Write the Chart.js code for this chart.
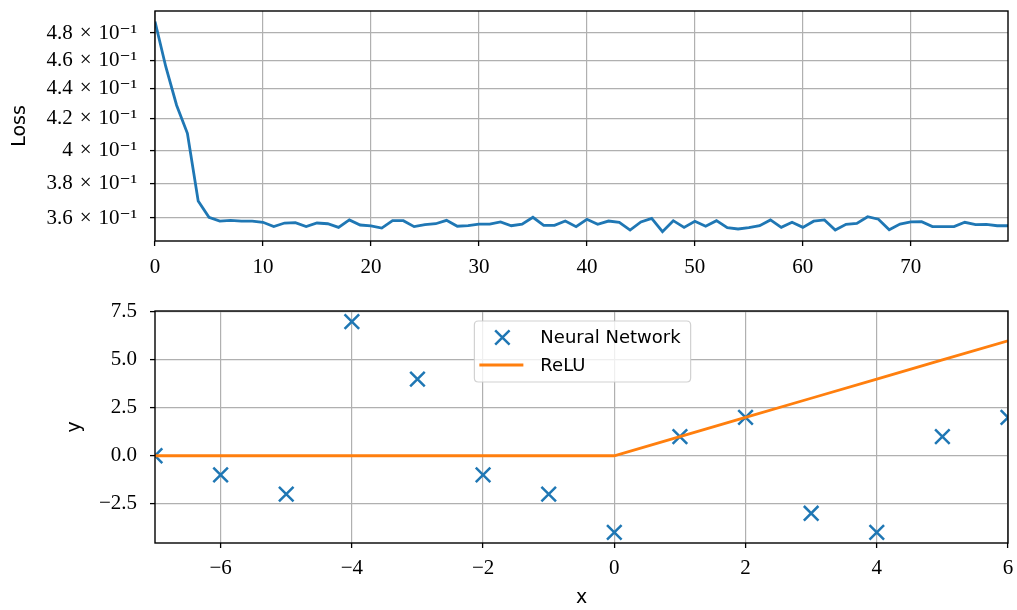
<!DOCTYPE html>
<html>
<head>
<meta charset="utf-8">
<script src="https://cdn.jsdelivr.net/npm/chart.js"></script>
<style>
  html, body { margin: 0; padding: 0; background: #fff; }
  #wrap { position: relative; width: 1017px; height: 610px; overflow: hidden; }
  #c1 { position: absolute; left: 0; top: 0; }
  #c2 { position: absolute; left: 0; top: 290px; }
</style>
</head>
<body>
<div id="wrap">
  <canvas id="c1" width="1017" height="290"></canvas>
  <canvas id="c2" width="1017" height="320"></canvas>
</div>
<script>
// ---------- data ----------
const loss = [
  0.4887, 0.4555, 0.4290, 0.4107, 0.3696, 0.3604, 0.3583, 0.3587, 0.3583, 0.3582,
  0.3576, 0.3552, 0.3572, 0.3574, 0.3552, 0.3572, 0.3568, 0.3548, 0.3589, 0.3561,
  0.3556, 0.3544, 0.3585, 0.3585, 0.3552, 0.3563, 0.3568, 0.3587, 0.3554, 0.3557,
  0.3566, 0.3566, 0.3578, 0.3557, 0.3566, 0.3604, 0.3559, 0.3559, 0.3583, 0.3552,
  0.3593, 0.3565, 0.3583, 0.3576, 0.3533, 0.3578, 0.3598, 0.3524, 0.3585, 0.3548,
  0.3582, 0.3554, 0.3585, 0.3546, 0.3539, 0.3546, 0.3557, 0.3589, 0.3548, 0.3576,
  0.3548, 0.3582, 0.3589, 0.3533, 0.3565, 0.3570, 0.3607, 0.3593, 0.3535, 0.3566,
  0.3578, 0.3579, 0.3552, 0.3552, 0.3552, 0.3576, 0.3563, 0.3565, 0.3557, 0.3557
];
const epochs = loss.map((_, i) => i);

const lossTickValues = [0.36, 0.38, 0.40, 0.42, 0.44, 0.46, 0.48];
const lossTickLabels = ['3.6\u2004×\u200410⁻¹', '3.8\u2004×\u200410⁻¹', '4\u2004×\u200410⁻¹', '4.2\u2004×\u200410⁻¹', '4.4\u2004×\u200410⁻¹', '4.6\u2004×\u200410⁻¹', '4.8\u2004×\u200410⁻¹'];
const epochTickValues = [0, 10, 20, 30, 40, 50, 60, 70];
const epochTickLabels = ['0', '10', '20', '30', '40', '50', '60', '70'];

const xs = [-7, -6, -5, -4, -3, -2, -1, 0, 1, 2, 3, 4, 5, 6];
const nnOutput = [0, -1, -2, 7, 4, -1, -2, -4, 1, 2, -3, -4, 1, 2];
const reluOutput = [0, 0, 0, 0, 0, 0, 0, 0, 1, 2, 3, 4, 5, 6];

const xTickValues = [-6, -4, -2, 0, 2, 4, 6];
const xTickLabels = ['−6', '−4', '−2', '0', '2', '4', '6'];
const yTickValues = [-2.5, 0, 2.5, 5, 7.5];
const yTickLabels = ['−2.5', '0.0', '2.5', '5.0', '7.5'];

const seriesNames = ['Neural Network', 'ReLU'];

// ---------- styles ----------
const BLUE = '#1f77b4';
const ORANGE = '#ff7f0e';
const GRID = '#b0b0b0';
const SERIF = "'Liberation Serif', 'DejaVu Serif', serif";
const SANS = "'DejaVu Sans', sans-serif";

function fixedTicks(values) {
  return function (scale) { scale.ticks = values.map(v => ({ value: v })); };
}
function labelFor(values, labels) {
  return function (v) {
    const i = values.findIndex(t => Math.abs(t - v) < 1e-9);
    return i >= 0 ? labels[i] : '';
  };
}
function gridOpts() {
  return { color: GRID, lineWidth: 1.2, tickColor: '#000', tickLength: 5, tickWidth: 1.3, drawTicks: true };
}
function fitX(h) {
  return function (s) { s.height = h; s.paddingLeft = 0; s.paddingRight = 0; s.paddingTop = 0; s.paddingBottom = 0; };
}
function fitY(w) {
  return function (s) { s.width = w; s.paddingLeft = 0; s.paddingRight = 0; s.paddingTop = 0; s.paddingBottom = 0; };
}

const framePlugin = {
  id: 'frame',
  afterDatasetsDraw(chart) {
    const { ctx, chartArea: a } = chart;
    ctx.save();
    ctx.strokeStyle = '#000';
    ctx.lineWidth = 1.4;
    ctx.strokeRect(a.left, a.top, a.right - a.left, a.bottom - a.top);
    ctx.restore();
  }
};

function drawCross(ctx, x, y, h, color, lw) {
  ctx.save();
  ctx.strokeStyle = color;
  ctx.lineWidth = lw;
  ctx.beginPath();
  ctx.moveTo(x - h, y - h); ctx.lineTo(x + h, y + h);
  ctx.moveTo(x - h, y + h); ctx.lineTo(x + h, y - h);
  ctx.stroke();
  ctx.restore();
}

const legendPlugin = {
  id: 'mplLegend',
  afterDraw(chart) {
    const { ctx, chartArea: a } = chart;
    const ds = chart.data.datasets;
    ctx.save();
    ctx.font = '18px ' + SANS;
    const textW = Math.max(...ds.map(d => ctx.measureText(d.label).width));
    const w = 66 + textW + 10;
    const h = 61;
    const cx = (a.left + a.right) / 2 + 1;
    const x0 = cx - w / 2;
    const y0 = a.top + 10;
    const r = 4;
    ctx.beginPath();
    ctx.moveTo(x0 + r, y0);
    ctx.lineTo(x0 + w - r, y0); ctx.quadraticCurveTo(x0 + w, y0, x0 + w, y0 + r);
    ctx.lineTo(x0 + w, y0 + h - r); ctx.quadraticCurveTo(x0 + w, y0 + h, x0 + w - r, y0 + h);
    ctx.lineTo(x0 + r, y0 + h); ctx.quadraticCurveTo(x0, y0 + h, x0, y0 + h - r);
    ctx.lineTo(x0, y0 + r); ctx.quadraticCurveTo(x0, y0, x0 + r, y0);
    ctx.closePath();
    ctx.fillStyle = 'rgba(255,255,255,0.8)';
    ctx.fill();
    ctx.strokeStyle = 'rgba(204,204,204,0.9)';
    ctx.lineWidth = 1.2;
    ctx.stroke();
    const rows = [y0 + 16.5, y0 + 44];
    ds.forEach((d, i) => {
      const yy = rows[i];
      if (d.showLine) {
        ctx.save();
        ctx.strokeStyle = d.borderColor;
        ctx.lineWidth = d.borderWidth;
        ctx.beginPath();
        ctx.moveTo(x0 + 5, yy); ctx.lineTo(x0 + 49, yy);
        ctx.stroke();
        ctx.restore();
      } else {
        drawCross(ctx, x0 + 28, yy, 7.2, d.borderColor, d.pointBorderWidth || 2.5);
      }
      ctx.fillStyle = '#000';
      ctx.textBaseline = 'middle';
      ctx.textAlign = 'left';
      ctx.fillText(d.label, x0 + 66, yy + 1);
    });
    ctx.restore();
  }
};

// ---------- top chart: loss ----------
new Chart(document.getElementById('c1'), {
  type: 'line',
  data: {
    labels: epochs,
    datasets: [{
      label: 'Loss',
      data: loss,
      borderColor: BLUE,
      backgroundColor: BLUE,
      borderWidth: 2.8,
      pointRadius: 0,
      tension: 0,
      fill: false
    }]
  },
  options: {
    responsive: false,
    animation: false,
    devicePixelRatio: 1,
    layout: { autoPadding: false, padding: { top: 11, right: 9, left: 0, bottom: 0 } },
    plugins: { legend: { display: false }, tooltip: { enabled: false } },
    scales: {
      x: {
        type: 'linear',
        min: 0, max: 79,
        afterBuildTicks: fixedTicks(epochTickValues),
        afterFit: fitX(49),
        grid: gridOpts(),
        border: { display: false },
        ticks: {
          autoSkip: false, maxRotation: 0, padding: 9, color: '#000',
          font: { family: SERIF, size: 21 },
          callback: labelFor(epochTickValues, epochTickLabels)
        }
      },
      y: {
        type: 'logarithmic',
        min: 0.34735, max: 0.49672,
        afterBuildTicks: fixedTicks(lossTickValues),
        afterFit: fitY(155),
        grid: gridOpts(),
        border: { display: false },
        title: {
          display: true, text: 'Loss', color: '#000',
          font: { family: SANS, size: 19 },
          padding: { top: 9, bottom: 0 }
        },
        ticks: {
          autoSkip: false, padding: 13, color: '#000',
          font: { family: SERIF, size: 21 },
          callback: labelFor(lossTickValues, lossTickLabels)
        }
      }
    }
  },
  plugins: [framePlugin]
});

// ---------- bottom chart: NN vs ReLU ----------
new Chart(document.getElementById('c2'), {
  type: 'scatter',
  data: {
    datasets: [
      {
        label: seriesNames[0],
        data: xs.map((x, i) => ({ x: x, y: nnOutput[i] })),
        showLine: false,
        pointStyle: 'crossRot',
        pointRadius: 10.3,
        pointBorderWidth: 2.5,
        borderColor: BLUE,
        backgroundColor: BLUE,
        order: 2,
        clip: 0
      },
      {
        label: seriesNames[1],
        data: xs.map((x, i) => ({ x: x, y: reluOutput[i] })),
        showLine: true,
        pointRadius: 0,
        borderWidth: 2.8,
        borderColor: ORANGE,
        backgroundColor: ORANGE,
        tension: 0,
        order: 1
      }
    ]
  },
  options: {
    responsive: false,
    animation: false,
    devicePixelRatio: 1,
    layout: { autoPadding: false, padding: { top: 21, right: 9, left: 0, bottom: 0 } },
    plugins: { legend: { display: false }, tooltip: { enabled: false } },
    scales: {
      x: {
        type: 'linear',
        min: -7, max: 6,
        afterBuildTicks: fixedTicks(xTickValues),
        afterFit: fitX(67),
        grid: gridOpts(),
        border: { display: false },
        title: {
          display: true, text: 'x', color: '#000',
          font: { family: SANS, size: 19 },
          padding: { top: 0, bottom: 1 }
        },
        ticks: {
          autoSkip: false, maxRotation: 0, padding: 8, color: '#000',
          font: { family: SERIF, size: 21 },
          callback: labelFor(xTickValues, xTickLabels)
        }
      },
      y: {
        type: 'linear',
        min: -4.55, max: 7.55,
        afterBuildTicks: fixedTicks(yTickValues),
        afterFit: fitY(155),
        grid: gridOpts(),
        border: { display: false },
        title: {
          display: true, text: 'y', color: '#000',
          font: { family: SANS, size: 19 },
          padding: { top: 64, bottom: 0 }
        },
        ticks: {
          autoSkip: false, padding: 13, color: '#000',
          font: { family: SERIF, size: 21 },
          callback: labelFor(yTickValues, yTickLabels)
        }
      }
    }
  },
  plugins: [framePlugin, legendPlugin]
});
</script>
</body>
</html>
